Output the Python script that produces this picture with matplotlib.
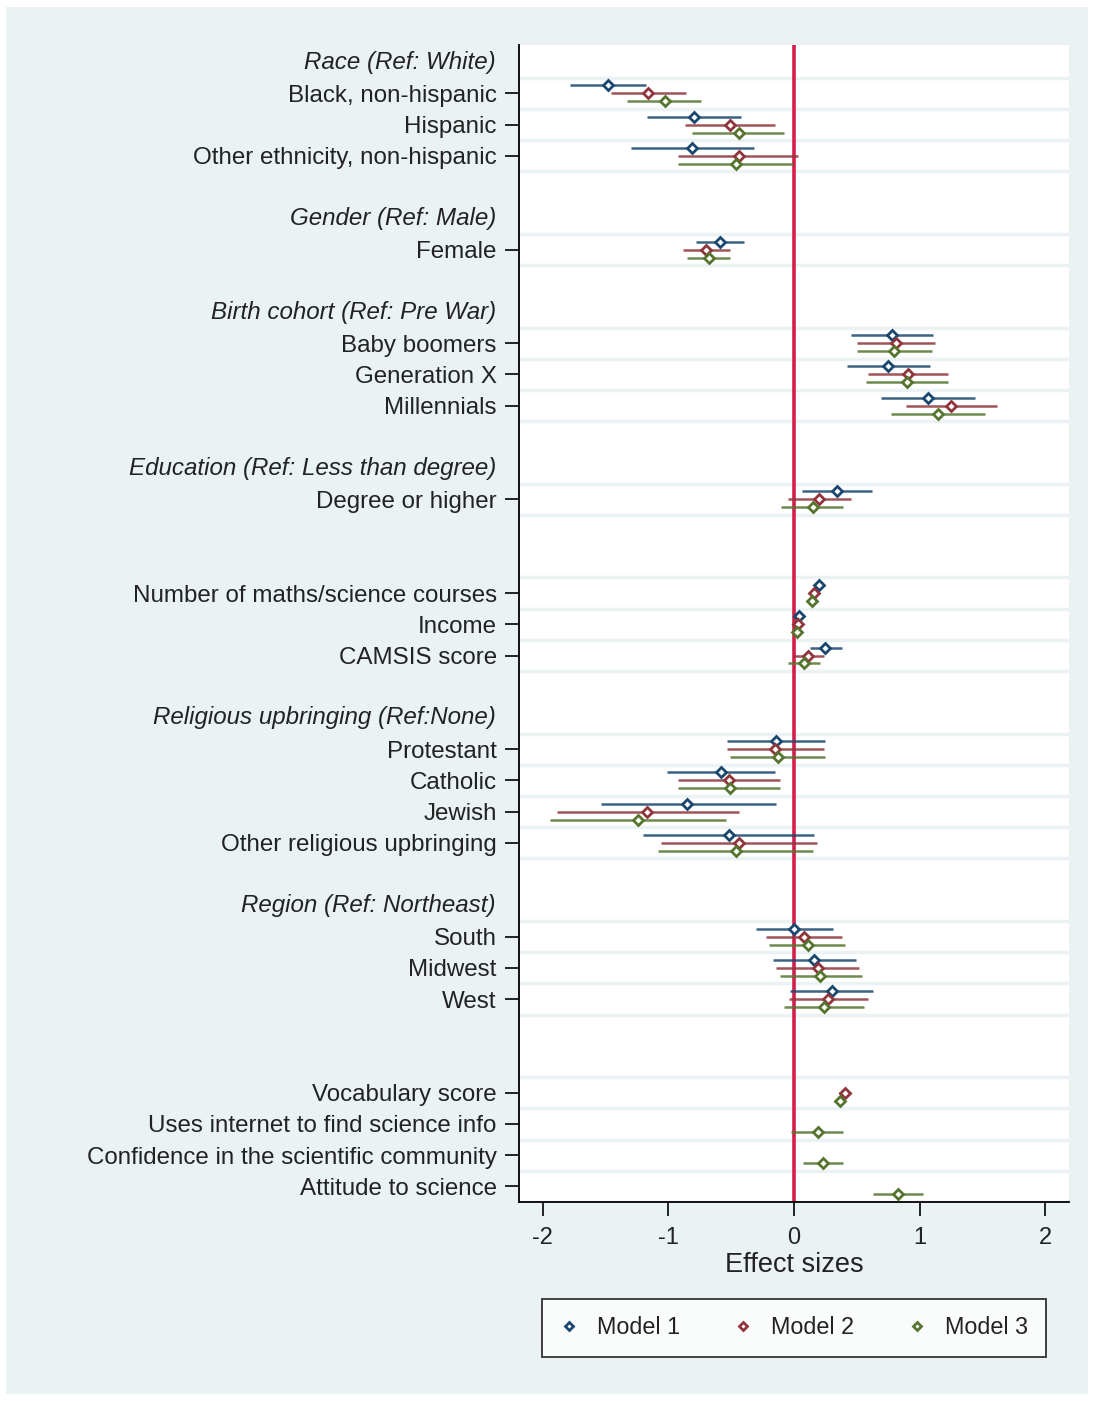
import numpy as np
import matplotlib.pyplot as plt
from matplotlib.patches import Rectangle

plt.rcParams['font.family'] = ['Liberation Sans', 'DejaVu Sans']

# rows top to bottom; "#" = group heading, "" = blank row
rows = ["#Race (Ref: White)", "Black, non-hispanic", "Hispanic", "Other ethnicity, non-hispanic", "",
        "#Gender (Ref: Male)", "Female", "",
        "#Birth cohort (Ref: Pre War)", "Baby boomers", "Generation X", "Millennials", "",
        "#Education (Ref: Less than degree)", "Degree or higher", "", "",
        "Number of maths/science courses", "Income", "CAMSIS score", "",
        "#Religious upbringing (Ref:None)", "Protestant", "Catholic", "Jewish", "Other religious upbringing", "",
        "#Region (Ref: Northeast)", "South", "Midwest", "West", "", "",
        "Vocabulary score", "Uses internet to find science info",
        "Confidence in the scientific community", "Attitude to science"]

nan = np.nan
# estimates and 95% CIs, same order as coefficient rows
m1_est = [-1.48, -0.80, -0.81, -0.59, 0.78, 0.75, 1.07, 0.34, 0.20, 0.04, 0.25,
          -0.14, -0.58, -0.85, -0.52, 0.00, 0.16, 0.30, nan, nan, nan, nan]
m1_lo = [-1.78, -1.17, -1.30, -0.78, 0.45, 0.42, 0.69, 0.06, 0.17, 0.01, 0.13,
         -0.53, -1.01, -1.54, -1.20, -0.30, -0.17, -0.03, nan, nan, nan, nan]
m1_hi = [-1.18, -0.42, -0.32, -0.40, 1.11, 1.08, 1.44, 0.62, 0.23, 0.07, 0.38,
         0.25, -0.15, -0.14, 0.16, 0.31, 0.49, 0.63, nan, nan, nan, nan]

m2_est = [-1.16, -0.51, -0.44, -0.70, 0.81, 0.91, 1.25, 0.20, 0.16, 0.03, 0.11,
          -0.15, -0.52, -1.17, -0.44, 0.08, 0.19, 0.27, 0.41, nan, nan, nan]
m2_lo = [-1.46, -0.87, -0.92, -0.88, 0.50, 0.59, 0.89, -0.05, 0.13, 0.00, -0.01,
         -0.53, -0.92, -1.89, -1.06, -0.22, -0.14, -0.04, 0.36, nan, nan, nan]
m2_hi = [-0.86, -0.15, 0.03, -0.51, 1.12, 1.23, 1.62, 0.45, 0.20, 0.06, 0.24,
         0.24, -0.11, -0.44, 0.18, 0.38, 0.52, 0.59, 0.45, nan, nan, nan]

m3_est = [-1.03, -0.44, -0.46, -0.68, 0.80, 0.90, 1.15, 0.15, 0.14, 0.02, 0.08,
          -0.13, -0.51, -1.24, -0.46, 0.11, 0.21, 0.24, 0.37, 0.19, 0.23, 0.83]
m3_lo = [-1.33, -0.81, -0.92, -0.85, 0.50, 0.57, 0.77, -0.10, 0.11, -0.01, -0.05,
         -0.51, -0.92, -1.94, -1.08, -0.20, -0.11, -0.08, 0.32, -0.02, 0.07, 0.63]
m3_hi = [-0.74, -0.08, -0.01, -0.51, 1.10, 1.23, 1.52, 0.39, 0.18, 0.05, 0.21,
         0.25, -0.11, -0.54, 0.15, 0.41, 0.54, 0.56, 0.41, 0.39, 0.39, 1.03]

models = ["Model 1", "Model 2", "Model 3"]
colors = ["#1a476f", "#90353b", "#55752f"]
bg = "#eaf2f3"
txt = '#222222'

pos = np.arange(1, len(rows) + 1)
coef_pos = np.array([p for p, r in zip(pos, rows) if r and not r.startswith("#")])
coef_lab = [r for r in rows if r and not r.startswith("#")]
head_pos = [p for p, r in zip(pos, rows) if r.startswith("#")]
head_lab = [r[1:] for r in rows if r.startswith("#")]

fig = plt.figure(figsize=(10.94, 14.01), dpi=100)
fig.patches.append(Rectangle((6 / 1094, 7 / 1401), 1082 / 1094, 1387 / 1401,
                             transform=fig.transFigure, facecolor=bg, edgecolor='none', zorder=-10))
ax = fig.add_axes([519 / 1094, 1 - 1202 / 1401, 550 / 1094, 1157 / 1401])
ax.set_facecolor('white')

# gridlines between coefficient rows
grid = np.unique(np.concatenate([coef_pos - 0.5, coef_pos + 0.5]))
ax.hlines(grid, -2.19, 2.19, color=bg, lw=2.5, zorder=0)
ax.axvline(0, color="#d41e4a", lw=2.6, zorder=1)

data = [(m1_est, m1_lo, m1_hi), (m2_est, m2_lo, m2_hi), (m3_est, m3_lo, m3_hi)]
for i, (est, lo, hi) in enumerate(data):
    y = coef_pos + (i - 1) * 0.255
    ax.hlines(y, lo, hi, color=colors[i], lw=1.8, alpha=0.85, zorder=2)
    ax.plot(est, y, linestyle='none', marker='D', markersize=5, mfc='white',
            mec=colors[i], mew=2, zorder=3, label=models[i])

ax.set_xlim(-2.19, 2.19)
ax.set_ylim(37.5, 0.45)
ax.set_yticks(coef_pos)
ax.set_yticklabels(coef_lab, fontsize=17.4, color=txt)
ax.set_xticks([-2, -1, 0, 1, 2])
ax.set_xticklabels(['-2', '-1', '0', '1', '2'], fontsize=17, color=txt)
ax.tick_params(axis='y', length=10, width=1.2, pad=6)
ax.tick_params(axis='x', length=10, width=1.2, pad=8)
for s in ['top', 'right']:
    ax.spines[s].set_visible(False)
for s in ['left', 'bottom']:
    ax.spines[s].set_linewidth(1.3)
ax.set_xlabel("Effect sizes", fontsize=19.5, color=txt, labelpad=2)

for p, lab in zip(head_pos, head_lab):
    ax.text(-0.042, p, lab, transform=ax.get_yaxis_transform(), ha='right', va='center',
            fontsize=17.4, fontstyle='italic', color=txt)

leg = fig.legend(loc='center', bbox_to_anchor=(794 / 1094, 1 - 1328 / 1401), ncol=3,
                 fontsize=16.8, frameon=True, fancybox=False, handlelength=0.8,
                 handletextpad=0.8, columnspacing=2.3, borderpad=0.75, markerscale=0.85)
leg.get_frame().set_edgecolor('black')
leg.get_frame().set_linewidth(1.3)
for t in leg.get_texts():
    t.set_color(txt)

fig.savefig("out.png", dpi=100, facecolor='white')
